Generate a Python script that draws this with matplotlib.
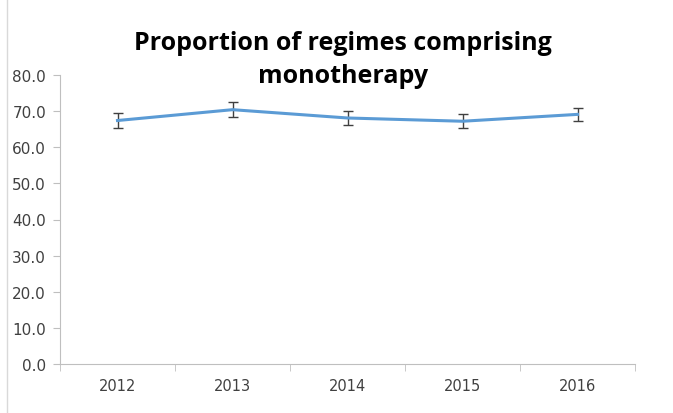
import numpy as np
from matplotlib import pyplot as plt
from matplotlib.lines import Line2D

years = ["2012", "2013", "2014", "2015", "2016"]
values = [67.4, 70.4, 68.1, 67.2, 69.1]
errors = [2.0, 2.0, 2.0, 1.9, 1.9]

fig = plt.figure(figsize=(6.73, 4.14), dpi=100)
ax = fig.add_axes([60 / 673, 49 / 414, 575 / 673, 289 / 414])

x = np.arange(len(years))
ax.errorbar(x, values, yerr=errors, color="#5B9BD5", lw=2.2,
            ecolor="#404040", elinewidth=1, capsize=3.5, capthick=1)

ax.set_xlim(-0.5, len(years) - 0.5)
ax.set_ylim(0, 80)
ax.set_yticks(np.arange(0, 81, 10))
ax.set_yticklabels([f"{v:.1f}" for v in np.arange(0, 81, 10)], fontsize=11, color="#404040")
ax.set_xticks(x)
ax.set_xticklabels(years, fontsize=10.5, color="#404040")
ax.set_xticks(np.arange(-0.5, len(years)), minor=True)
ax.tick_params(axis="x", which="major", length=0, pad=10)
ax.tick_params(axis="x", which="minor", length=5, color="#BFBFBF")
ax.tick_params(axis="y", length=5, color="#BFBFBF", pad=5)

for s in ["top", "right"]:
    ax.spines[s].set_visible(False)
for s in ["left", "bottom"]:
    ax.spines[s].set_color("#BFBFBF")

fig.text(343 / 673, 1 - 60 / 414, "Proportion of regimes comprising\nmonotherapy",
         ha="center", va="center", fontsize=18, fontweight="bold",
         family="Open Sans", linespacing=1.45)

fig.add_artist(Line2D([7 / 673, 7 / 673], [0, 1], color="#D9D9D9", lw=1))

fig.savefig("out.png", dpi=100)
